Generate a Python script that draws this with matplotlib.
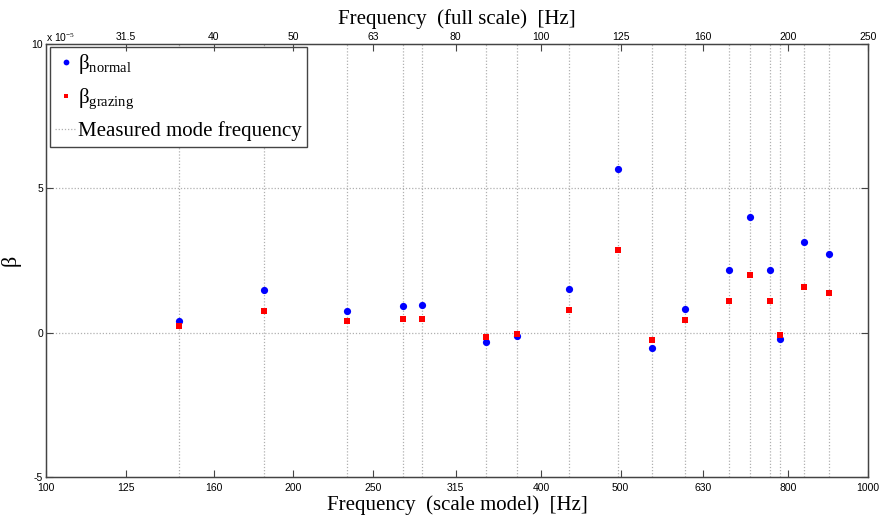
import numpy as np
import matplotlib
matplotlib.use("Agg")
import matplotlib.pyplot as plt
from matplotlib.ticker import FixedLocator, FixedFormatter, NullLocator

# Mode frequencies measured in the scale model [Hz]
mode_freq = [145.0, 184.0, 232.2, 272.1, 287.0, 343.3, 374.4, 432.4, 496.1,
             546.6, 599.6, 678.1, 718.5, 760.5, 782.2, 836.6, 896.6]
# Admittance estimates (x 1e-5)
beta_normal = [0.40, 1.49, 0.76, 0.91, 0.96, -0.32, -0.11, 1.52, 5.67,
               -0.54, 0.83, 2.18, 4.01, 2.18, -0.22, 3.13, 2.71]
beta_grazing = [0.22, 0.75, 0.39, 0.47, 0.48, -0.15, -0.04, 0.775, 2.86,
                -0.26, 0.43, 1.10, 2.01, 1.10, -0.09, 1.58, 1.36]

# Third-octave ticks: scale model and the corresponding full-scale values
model_ticks = [100, 125, 160, 200, 250, 315, 400, 500, 630, 800, 1000]
model_labels = ["100", "125", "160", "200", "250", "315", "400", "500", "630", "800", "1000"]
full_ticks = [125, 160, 200, 250, 315, 400, 500, 630, 800, 1000]
full_labels = ["31.5", "40", "50", "63", "80", "100", "125", "160", "200", "250"]
y_ticks = [-5, 0, 5, 10]

plt.rcParams["mathtext.fontset"] = "custom"
plt.rcParams["mathtext.rm"] = "Liberation Serif"
plt.rcParams["mathtext.it"] = "Liberation Serif:italic"

serif = "Liberation Serif"
sans = "Liberation Sans"
spine_col = "#444444"
grid_col = "#b0b0b0"
tick_fs = 7.5

fig = plt.figure(figsize=(8.84, 5.18), dpi=100)
ax = fig.add_axes([46 / 884, 1 - 477 / 518, (868 - 46) / 884, (477 - 44) / 518])

ax.set_xscale("log")
ax.set_xlim(100, 1000)
ax.set_ylim(-5, 10)

# Measured mode frequencies as dotted vertical lines
for i, f in enumerate(mode_freq):
    ax.axvline(f, color=grid_col, linestyle=(0, (1, 1.5)), linewidth=0.9, zorder=1,
               label="Measured mode frequency" if i == 0 else None)
for yv in [0, 5]:
    ax.axhline(yv, color=grid_col, linestyle=(0, (1, 1.5)), linewidth=0.9, zorder=1)

h1, = ax.plot(mode_freq, beta_normal, "o", color="#0000ff", markersize=5.2,
              markeredgewidth=0, zorder=3, label=r"β$_{\mathrm{normal}}$")
h2, = ax.plot(mode_freq, beta_grazing, "s", color="#ff0000", markersize=4.3,
              markeredgewidth=0, zorder=3, label=r"β$_{\mathrm{grazing}}$")

ax.xaxis.set_major_locator(FixedLocator(model_ticks))
ax.xaxis.set_major_formatter(FixedFormatter(model_labels))
ax.xaxis.set_minor_locator(NullLocator())
ax.set_yticks(y_ticks)
ax.set_yticklabels([str(v) for v in y_ticks])
ax.tick_params(axis="both", direction="in", length=5, width=0.8, color=spine_col,
               labelsize=tick_fs, pad=4)
ax.tick_params(axis="y", right=True, pad=2)
for lab in ax.get_xticklabels() + ax.get_yticklabels():
    lab.set_fontfamily(sans)
for sp in ax.spines.values():
    sp.set_color(spine_col)
    sp.set_linewidth(1.0)

ax.set_xlabel("Frequency  (scale model)  [Hz]", fontfamily=serif, fontsize=15, labelpad=2)
ax.set_ylabel("β", fontfamily=serif, fontsize=16, labelpad=8)
ax.text(0.0, 1.0, r"x 10$^{-5}$", transform=ax.transAxes, fontfamily=sans,
        fontsize=tick_fs, ha="left", va="bottom")

# Full-scale frequency axis on top
top = ax.twiny()
top.set_xscale("log")
top.set_xlim(100, 1000)
top.xaxis.set_major_locator(FixedLocator(full_ticks))
top.xaxis.set_major_formatter(FixedFormatter(full_labels))
top.xaxis.set_minor_locator(NullLocator())
top.tick_params(axis="x", direction="in", length=5, width=0.8, color=spine_col,
                labelsize=tick_fs, pad=1.5)
for lab in top.get_xticklabels():
    lab.set_fontfamily(sans)
for sp in top.spines.values():
    sp.set_color(spine_col)
top.set_xlabel("Frequency  (full scale)  [Hz]", fontfamily=serif, fontsize=15, labelpad=6)

vline = ax.get_lines()[0]
leg = ax.legend([h1, h2, vline], [h1.get_label(), h2.get_label(), "Measured mode frequency"],
                loc="upper left", bbox_to_anchor=(0.005, 0.993), borderaxespad=0,
                prop={"family": serif, "size": 15}, fancybox=False, framealpha=1,
                edgecolor=spine_col, handlelength=1.0, handletextpad=0.1,
                labelspacing=0.5, borderpad=0.25, numpoints=1, markerscale=0.8)
leg.get_frame().set_linewidth(1.0)
leg.set_zorder(5)

fig.savefig("out.png", dpi=100)
